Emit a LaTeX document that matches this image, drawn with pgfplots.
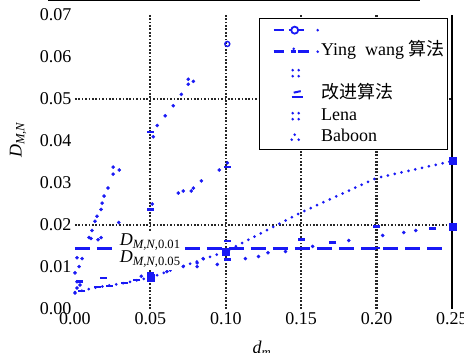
\documentclass[border=0pt]{standalone}
\usepackage{pgfplots}
\pgfplotsset{compat=1.18}
\usepackage{fontspec}
\setmainfont{Liberation Serif}
\newfontfamily\cjk{Noto Sans CJK SC}
\definecolor{mblue}{RGB}{25,25,245}
\newcommand{\Dlab}[1]{{\itshape D}\textsubscript{\itshape M,N#1}}
\begin{document}
\begin{tikzpicture}
\useasboundingbox (-75pt,-44pt) rectangle (389pt,309pt);
\draw[black, line width=2pt] (-27pt,308.5pt) -- (345pt,308.5pt);
\begin{axis}[
  at={(0pt,0pt)}, anchor=south west,
  width=377pt, height=294pt, scale only axis,
  xmin=0, xmax=0.25, ymin=0, ymax=0.07,
  clip=false, scaled ticks=false,
  axis line style={draw=none},
  tick style={draw=none},
  xtick={0,0.05,0.1,0.15,0.2,0.25},
  xticklabels={0.00,0.05,0.10,0.15,0.20,0.25},
  ytick={0,0.01,0.02,0.03,0.04,0.05,0.06,0.07},
  yticklabels={0.00,0.01,0.02,0.03,0.04,0.05,0.06,0.07},
  ticklabel style={font=\fontsize{18}{18}\selectfont},
  extra x ticks={0.05,0.1,0.15,0.2},
  extra x tick labels={},
  extra x tick style={grid=major, tick style={draw=none}, major grid style={black!85, line width=2.2pt, dash pattern=on 1.7pt off 1.7pt}},
  extra y ticks={0.02,0.05},
  extra y tick labels={},
  extra y tick style={grid=major, tick style={draw=none}, major grid style={black!85, line width=2.2pt, dash pattern=on 1.7pt off 1.7pt}},
  ylabel={\Dlab{}},
  ylabel style={font=\fontsize{18}{18}\selectfont, at={(axis description cs:-0.151,0.575)}, anchor=center},
  xlabel={\itshape d\textsubscript{m}},
  xlabel style={font=\fontsize{18}{18}\selectfont, at={(axis description cs:0.496,-0.135)}, anchor=center},
  legend style={at={(axis description cs:1,1)}, anchor=north east, xshift=-4pt, yshift=-3pt,
    draw=black, line width=0.8pt, inner sep=1pt, row sep=0pt,
    font=\fontsize{18}{18}\selectfont,
    nodes={inner sep=2pt, text height=13pt, text depth=4.5pt}},
  legend cell align=left,
]
% threshold dashed line
\addplot[mblue, line width=3pt, dash pattern=on 15pt off 7pt, forget plot] coordinates {(0,0.0144) (0.2465,0.0144)};
% series A dotted line
\addplot[mblue, line width=3pt, dash pattern=on 0pt off 7pt, line cap=round, forget plot] coordinates {
(0,0.0040) (0.015,0.0052) (0.033,0.0062) (0.05,0.0075) (0.10,0.0137) (0.15,0.0230) (0.20,0.0312) (0.25,0.0352)};
% squares
\addplot[mblue, only marks, mark=square*, mark size=3.5pt, forget plot] coordinates {
(0.05,0.0075) (0.10,0.0137) (0.2507,0.0352) (0.2507,0.0197)};
% dash marks
\addplot[mblue, only marks, mark=-, mark size=3.5pt, line width=2.4pt, forget plot] coordinates {
(0.003,0.0065) (0.0045,0.0043) (0.0146,0.0053) (0.0226,0.0055) (0.033,0.0062) (0.041,0.0069) (0.0186,0.0074)
(0.05,0.0422) (0.05,0.0237) (0.101,0.0338) (0.101,0.0118) (0.05,0.0085) (0.101,0.0162) (0.15,0.0165) (0.2,0.0196) (0.171,0.0158) (0.15,0.0145) (0.2,0.0145) (0.237,0.0192)};
% steep series (Lena)
\addplot[mblue, only marks, mark=*, mark size=1.6pt, forget plot] coordinates {
(0,0.0038) (0.0013,0.0065) (0,0.0086) (0.0027,0.0101) (0.0013,0.0122) (0.0047,0.0120)
(0.0093,0.0170) (0.0113,0.0187) (0.0133,0.0209) (0.0146,0.0221) (0.0173,0.0237) (0.0180,0.0252)
(0.0193,0.0269) (0.0219,0.0288) (0.0253,0.0321) (0.0253,0.0338) (0.0293,0.0331)
(0.0106,0.0168) (0.0153,0.0165) (0.0173,0.0170) (0.029,0.0206) (0.0013,0.0050) (0.0033,0.0057)};
% upper series
\addplot[mblue, only marks, mark=*, mark size=1.6pt, forget plot] coordinates {
(0.0519,0.041) (0.0545,0.0437) (0.0598,0.046) (0.0652,0.0484) (0.0705,0.0511)
(0.0751,0.0547) (0.0751,0.0535) (0.0785,0.0542)};
\addplot[mblue, only marks, mark=o, mark size=2.5pt, line width=1.4pt, forget plot] coordinates {(0.101,0.0631)};
% middle series
\addplot[mblue, only marks, mark=*, mark size=1.6pt, forget plot] coordinates {
(0.0512,0.025) (0.0685,0.0276) (0.0718,0.0281) (0.0771,0.0281) (0.0785,0.0288) (0.0838,0.0305)
(0.0957,0.0331) (0.101,0.0348)};
% lower right series
\addplot[mblue, only marks, mark=*, mark size=1.6pt, forget plot] coordinates {
(0.0718,0.0101) (0.081,0.0101) (0.081,0.011) (0.085,0.012) (0.0944,0.0106) (0.113,0.012)
(0.1217,0.0125) (0.128,0.0134) (0.1396,0.0137) (0.1576,0.0149) (0.1815,0.0163)
(0.204,0.0175) (0.218,0.0182) (0.226,0.0187) (0.044,0.0078) (0.061,0.0089)};
% legend
\addlegendimage{draw=none, mark=none, legend image code/.code={
 \path[draw=none] (-13pt,0pt)--(45pt,0pt);
 \draw[mblue, line width=2.4pt, solid] (0pt,0pt)--(10pt,0pt);
 \draw[mblue, line width=2.4pt, solid] (15pt,0pt)--(30pt,0pt);
 \draw[mblue, line width=1.8pt, solid, fill=white] (21pt,0pt) circle (3.5pt);
 \fill[mblue] (44pt,0pt) circle (1.4pt);}}
\addlegendentry{}
\addlegendimage{draw=none, mark=none, legend image code/.code={
 \path[draw=none] (-13pt,0pt)--(45pt,0pt);
 \draw[mblue, line width=2.4pt, solid] (0pt,0pt)--(10pt,0pt);
 \draw[mblue, line width=2.4pt, solid] (17pt,0pt)--(22pt,0pt);
 \draw[mblue, line width=2.4pt, solid] (24pt,0pt)--(35pt,0pt);
 \fill[mblue] (20pt,2.8pt) circle (1.4pt);
 \fill[mblue] (44pt,0pt) circle (1.4pt);}}
\addlegendentry{Ying\ \ wang {\cjk 算法}}
\addlegendimage{draw=none, mark=none, legend image code/.code={
 \path[draw=none] (-13pt,0pt)--(45pt,0pt);
 \fill[mblue] (19pt,3pt) circle (1.4pt); \fill[mblue] (25pt,3pt) circle (1.4pt);
 \fill[mblue] (19pt,-3pt) circle (1.4pt); \fill[mblue] (25pt,-3pt) circle (1.4pt);}}
\addlegendentry{}
\addlegendimage{draw=none, mark=none, legend image code/.code={
 \path[draw=none] (-13pt,0pt)--(45pt,0pt);
 \draw[mblue, line width=2.2pt, solid] (18pt,-2.5pt)--(29pt,-2.5pt);
 \draw[mblue, line width=2pt, solid] (20pt,2pt)--(27pt,3.5pt);}}
\addlegendentry{\cjk 改进算法}
\addlegendimage{draw=none, mark=none, legend image code/.code={
 \path[draw=none] (-13pt,0pt)--(45pt,0pt);
 \fill[mblue] (19pt,3pt) circle (1.4pt); \fill[mblue] (25pt,3pt) circle (1.4pt);
 \fill[mblue] (19pt,-3pt) circle (1.4pt); \fill[mblue] (25pt,-3pt) circle (1.4pt);}}
\addlegendentry{Lena}
\addlegendimage{draw=none, mark=none, legend image code/.code={
 \path[draw=none] (-13pt,0pt)--(45pt,0pt);
 \fill[mblue] (21pt,3pt) circle (1.4pt);
 \fill[mblue] (18pt,-2pt) circle (1.4pt); \fill[mblue] (25pt,-2pt) circle (1.4pt);}}
\addlegendentry{Baboon}
\coordinate (L0) at (axis cs:0.0266,0.0183);
\coordinate (L1) at (axis cs:0.0286,0.0151);
\coordinate (L2) at (axis cs:0.0286,0.0110);
% right border
\draw[black, line width=2.2pt] (axis cs:0.25,0) -- (axis cs:0.25,0.07);
\end{axis}
% threshold labels, drawn on top of a white patch
\fill[white] (L0) rectangle ++(64pt,-38pt);
\node[anchor=base west, inner sep=1.5pt, font=\fontsize{18}{18}\selectfont] at (L1) {\Dlab{,\upshape 0.01}};
\node[anchor=base west, inner sep=1.5pt, font=\fontsize{18}{18}\selectfont] at (L2) {\Dlab{,\upshape 0.05}};
\end{tikzpicture}
\end{document}
